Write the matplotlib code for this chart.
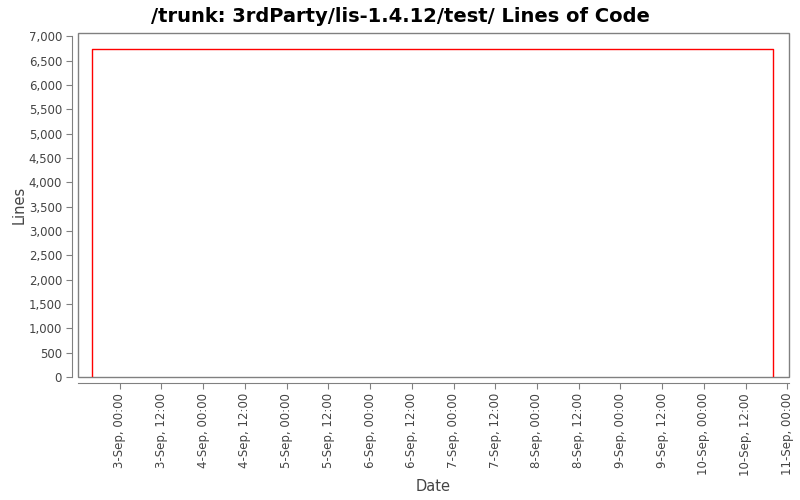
import matplotlib
matplotlib.use('Agg')
import matplotlib.pyplot as plt
from matplotlib.patches import Rectangle
from matplotlib.ticker import FuncFormatter, MultipleLocator
import datetime as dt

# data
dates = ['2007-09-02 16:00', '2007-09-02 16:00', '2007-09-10 20:00', '2007-09-10 20:00']
lines = [0, 6730, 6730, 0]

x = [dt.datetime.strptime(d, '%Y-%m-%d %H:%M') for d in dates]

fig = plt.figure(figsize=(8, 5), dpi=100)
ax = fig.add_axes([0.0975, 0.246, 0.8888, 0.688])

ax.plot(x, lines, color='red', linewidth=1)

ax.set_xlim(dt.datetime(2007, 9, 2, 12, 0), dt.datetime(2007, 9, 11, 0, 30))
ax.set_ylim(0, 7065)

gray = '#808080'
for s in ['top', 'right']:
    ax.spines[s].set_visible(False)
ax.spines['left'].set_position(('outward', 4))
ax.spines['bottom'].set_position(('outward', 4))
ax.spines['left'].set_color(gray)
ax.spines['bottom'].set_color(gray)
ax.spines['left'].set_bounds(0, 7000)
ax.add_patch(Rectangle((0, 0), 1, 1, transform=ax.transAxes, fill=False,
                       edgecolor=gray, linewidth=1, clip_on=False))

ax.yaxis.set_major_locator(MultipleLocator(500))
ax.yaxis.set_major_formatter(FuncFormatter(lambda v, p: '{:,.0f}'.format(v)))

ticks = [dt.datetime(2007, 9, 3) + dt.timedelta(hours=12 * i) for i in range(17)]
ax.set_xticks(ticks)
ax.set_xticklabels([t.strftime('%-d-Sep, %H:%M') for t in ticks], rotation=90)

ax.tick_params(axis='both', colors=gray, length=4, labelsize=8.5, labelcolor='#444444')

ax.set_xlabel('Date', fontsize=10.5, color='#444444')
ax.xaxis.set_label_coords(0.5, -0.296)
ax.set_ylabel('Lines', fontsize=10.5, color='#444444')
ax.yaxis.set_label_coords(-0.072, 0.5)
fig.suptitle('/trunk: 3rdParty/lis-1.4.12/test/ Lines of Code', fontsize=14,
             fontweight='bold', y=0.985)

fig.savefig('out.png', dpi=100)
